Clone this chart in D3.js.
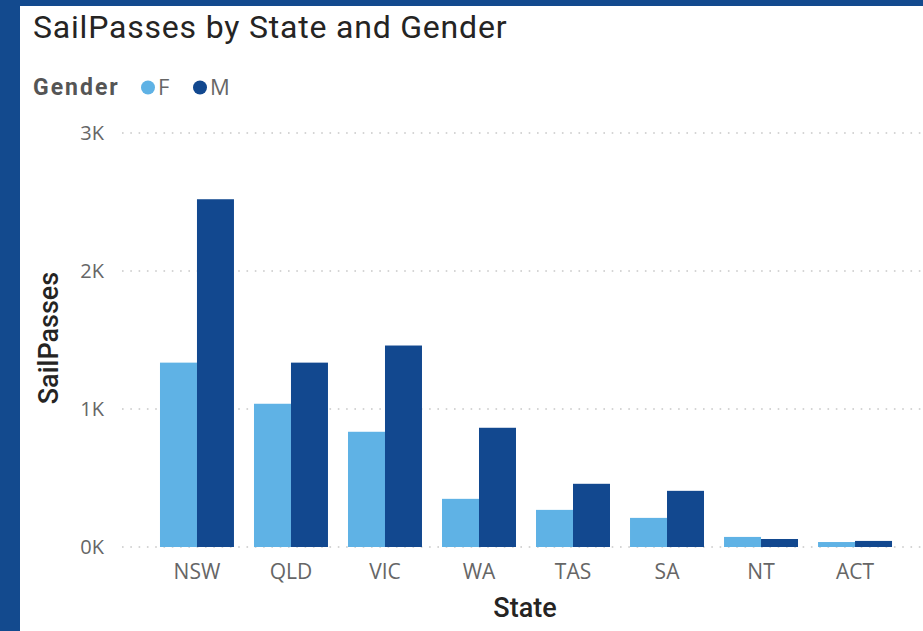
<!DOCTYPE html>
<html>
<head>
<meta charset="utf-8">
<script src="https://cdn.jsdelivr.net/npm/d3@7"></script>
<style>
  html, body {margin: 0; padding: 0; background: #fff;}
  svg {display: block;}
</style>
</head>
<body>
<div id="chart"></div>
<script>
const states = ["NSW", "QLD", "VIC", "WA", "TAS", "SA", "NT", "ACT"]
const genders = ["F", "M"]
const female = [1336, 1038, 835, 349, 269, 211, 73, 36]
const male = [2520, 1336, 1460, 864, 458, 407, 58, 44]
const yTicks = [0, 1000, 2000, 3000]

const width = 923, height = 631
const colors = {F: "#5fb2e5", M: "#12488f"}

const rows = states.map((s, i) => ({state: s, F: female[i], M: male[i]}))

const svg = d3.select("#chart").append("svg")
  .attr("width", width).attr("height", height)

// frame
svg.append("rect").attr("width", width).attr("height", height).attr("fill", "#134a8e")
svg.append("rect").attr("x", 20).attr("y", 6).attr("width", width - 20).attr("height", height - 6).attr("fill", "#fff")

const x = d3.scaleBand().domain(states).range([122, 930]).paddingInner(0.213).paddingOuter(0.404)
const xSub = d3.scaleBand().domain(genders).range([0, x.bandwidth()])
const y = d3.scaleLinear().domain([0, 3000]).range([547, 133])

// gridlines
svg.append("g").selectAll("line").data(yTicks).join("line")
  .attr("x1", 122).attr("x2", width)
  .attr("y1", d => y(d)).attr("y2", d => y(d))
  .attr("stroke", "#c8c8c8").attr("stroke-width", 1.6)
  .attr("stroke-dasharray", "1.6,6.7")

// y axis
const yAxis = svg.append("g").attr("transform", "translate(104,0)")
  .call(d3.axisLeft(y).tickValues(yTicks).tickFormat(d => (d / 1000) + "K").tickSize(0).tickPadding(0))
yAxis.select(".domain").remove()
yAxis.selectAll("text").attr("fill", "#666").style("font-family", "'Open Sans', sans-serif").style("font-size", "20px")

// x axis
const xAxis = svg.append("g").attr("transform", "translate(0,556)")
  .call(d3.axisBottom(x).tickSize(0).tickPadding(4))
xAxis.select(".domain").remove()
xAxis.selectAll("text").attr("fill", "#666").attr("dy", "0.9em")
  .style("font-family", "'Open Sans', sans-serif").style("font-size", "21px")

// bars
svg.append("g").selectAll("g").data(rows).join("g")
  .attr("transform", d => `translate(${x(d.state)},0)`)
  .selectAll("rect").data(d => genders.map(g => ({g, v: d[g]}))).join("rect")
  .attr("x", d => xSub(d.g)).attr("width", xSub.bandwidth())
  .attr("y", d => y(d.v)).attr("height", d => y(0) - y(d.v))
  .attr("fill", d => colors[d.g])

// title
svg.append("text").attr("x", 33).attr("y", 38)
  .style("font-family", "Roboto, sans-serif").style("font-size", "32px").style("letter-spacing", "0.8px")
  .attr("fill", "#252423")
  .text("SailPasses by State and Gender")

// legend
const legend = svg.append("g")
legend.append("text").attr("x", 33).attr("y", 95).attr("font-weight", "bold").attr("fill", "#555")
  .style("font-family", "Roboto, sans-serif").style("font-size", "23px").style("letter-spacing", "2px")
  .text("Gender")
const items = [{g: "F", cx: 148}, {g: "M", cx: 200}]
items.forEach(it => {
  legend.append("circle").attr("cx", it.cx).attr("cy", 87.5).attr("r", 7).attr("fill", colors[it.g])
  legend.append("text").attr("x", it.cx + 10).attr("y", 95).attr("fill", "#666")
    .style("font-family", "'Open Sans', sans-serif").style("font-size", "22px")
    .text(it.g)
})

// axis titles
svg.append("text").attr("transform", "translate(58,338) rotate(-90)").attr("text-anchor", "middle")
  .style("font-family", "Roboto, sans-serif").style("font-size", "27px").attr("font-weight", 500).attr("fill", "#252423")
  .text("SailPasses")
svg.append("text").attr("x", 525).attr("y", 617).attr("text-anchor", "middle")
  .style("font-family", "Roboto, sans-serif").style("font-size", "27px").attr("font-weight", 500).attr("fill", "#252423")
  .text("State")
</script>
</body>
</html>
